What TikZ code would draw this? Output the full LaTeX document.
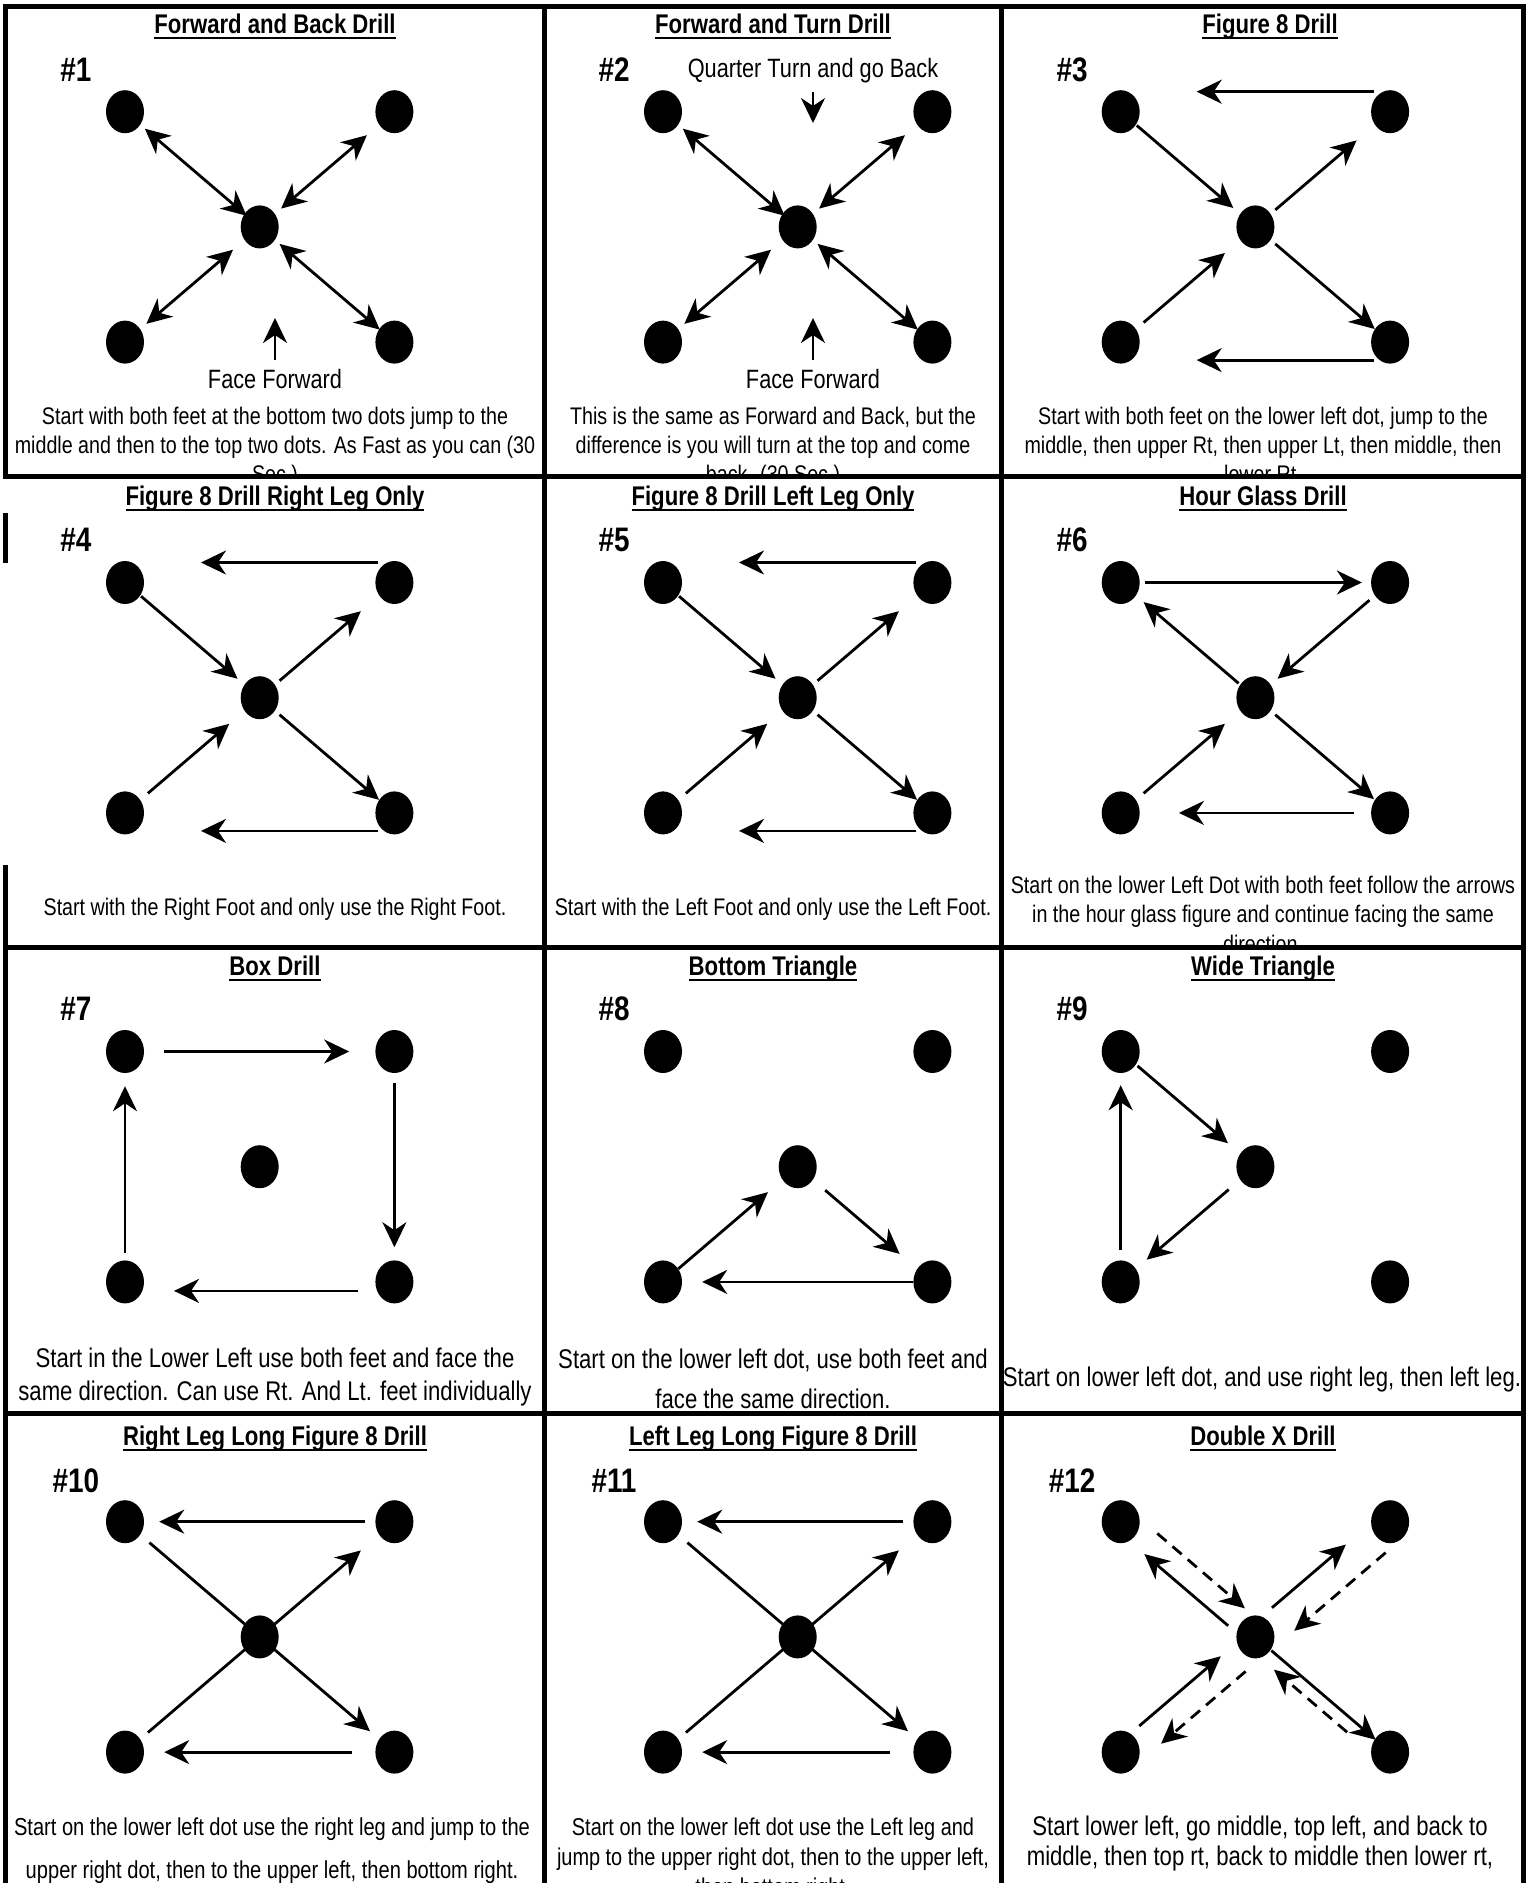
\documentclass[tikz,border=0pt]{standalone}
\usepackage{fontspec}
\setmainfont{Liberation Sans}[FakeStretch=0.82]
\usetikzlibrary{arrows.meta,calc,positioning,shapes.geometric}
\newcommand{\ulin}[1]{\sbox0{#1}\rlap{\rule[-6pt]{\wd0}{2pt}}\usebox0}

\begin{document}
\begin{tikzpicture}[x=1pt,y=-1pt,
    spot/.style={ellipse,fill,inner sep=0pt,minimum width=38pt,minimum height=43pt},
    arr/.style={-{Stealth[length=25pt,width=24pt,inset=8pt]},line width=2.8pt},
    dbl/.style={{Stealth[length=25pt,width=24pt,inset=8pt]}-{Stealth[length=25pt,width=24pt,inset=8pt]},line width=2.8pt},
    dsh/.style={arr,dash pattern=on 12pt off 8pt},
    ttl/.style={anchor=base,inner sep=0pt,font=\fontsize{27}{30}\selectfont\bfseries},
    num/.style={anchor=base,inner sep=0pt,font=\fontsize{34}{36}\selectfont\bfseries},
    lbl/.style={anchor=base,inner sep=0pt,font=\fontsize{26.5}{30}\selectfont},
    body/.style={anchor=base,inner sep=0pt,align=center},
    cellline/.style={line width=5pt,line cap=rect}]
  \fill[white] (0,0) rectangle (1532,1883);
  \useasboundingbox (0,0) rectangle (1532,1883);

  \foreach \c/\x/\y in {1/125/111.7,2/663/111.7,3/1120.7/111.7,4/125/582.5,5/663/582.5,6/1120.7/582.5,
      7/125/1051.5,8/663/1051.5,9/1120.7/1051.5,10/125/1521.7,11/663/1521.7,12/1120.7/1521.7}{
    \node[spot] (c\c tl) at (\x,\y) {};
    \node[spot,right=231pt of c\c tl] (c\c tr) {};
    \node[spot,below=187pt of c\c tl] (c\c bl) {};
    \node[spot,right=231pt of c\c bl] (c\c br) {};
    \node[spot] (c\c m) at ($(c\c tl)!.5!(c\c br)$) {};
  }

  \node[ttl] (t1) at (275,33.3) {\ulin{Forward and Back Drill}};
  \node[ttl] (t2) at (773,33.3) {\ulin{Forward and Turn Drill}};
  \node[ttl] (t3) at (1270,33.3) {\ulin{Figure 8 Drill}};
  \node[ttl] (t4) at (275,505) {\ulin{Figure 8 Drill Right Leg Only}};
  \node[ttl] (t5) at (773,505) {\ulin{Figure 8 Drill Left Leg Only}};
  \node[ttl] (t6) at (1263,505) {\ulin{Hour Glass Drill}};
  \node[ttl] (t7) at (275,975) {\ulin{Box Drill}};
  \node[ttl] (t8) at (773,975) {\ulin{Bottom Triangle}};
  \node[ttl] (t9) at (1263,975) {\ulin{Wide Triangle}};
  \node[ttl] (t10) at (275,1445) {\ulin{Right Leg Long Figure 8 Drill}};
  \node[ttl] (t11) at (773,1445) {\ulin{Left Leg Long Figure 8 Drill}};
  \node[ttl] (t12) at (1263,1445) {\ulin{Double X Drill}};

  \node[num] (n1) at (76,81.7) {\#1};
  \node[num] (n2) at (614,81.7) {\#2};
  \node[num] (n3) at (1072,81.7) {\#3};
  \node[num] (n4) at (76,551.7) {\#4};
  \node[num] (n5) at (614,551.7) {\#5};
  \node[num] (n6) at (1072,551.7) {\#6};
  \node[num] (n7) at (76,1020.7) {\#7};
  \node[num] (n8) at (614,1020.7) {\#8};
  \node[num] (n9) at (1072,1020.7) {\#9};
  \node[num] (n10) at (76,1492.7) {\#10};
  \node[num] (n11) at (614,1492.7) {\#11};
  \node[num] (n12) at (1072,1492.7) {\#12};

  \node[lbl] (c1ff) at (275,388) {Face Forward};
  \node[lbl] (c2ff) at (813,388) {Face Forward};
  \node[lbl] (c2qt) at (813,77) {Quarter Turn and go Back};
  \coordinate (c1fa) at (275,318);
  \coordinate (c2fa) at (813,318);
  \coordinate (c2qa) at (813,123);
  \draw[arr,shorten <=9pt] (c1ff) -- (c1fa);
  \draw[arr,shorten <=9pt] (c2ff) -- (c2fa);
  \draw[arr,shorten <=9pt] (c2qt) -- (c2qa);

  \foreach \c in {1,2}{
    \draw[dbl,shorten <=6pt,shorten >=-3pt] (c\c tl) -- (c\c m);
    \draw[dbl,shorten <=16pt,shorten >=8pt] (c\c tr) -- (c\c m);
    \draw[dbl,shorten <=8pt,shorten >=15pt] (c\c bl) -- (c\c m);
    \draw[dbl,shorten <=6pt,shorten >=-1pt] (c\c m) -- (c\c br);
  }
  \foreach \c in {3,4,5}{
    \draw[arr,shorten <=1pt,shorten >=9pt] (c\c tl) -- (c\c m);
    \draw[arr,shorten <=6pt,shorten >=24pt] (c\c m) -- (c\c tr);
    \draw[arr,shorten <=10pt,shorten >=20pt] (c\c bl) -- (c\c m);
    \draw[arr,shorten <=6pt] (c\c m) -- (c\c br);
    \draw[arr,shorten <=16pt,shorten >=76pt] ([yshift=20pt]c\c tr.center) -- ([yshift=20pt]c\c tl.center);
    \draw[arr,shorten <=16pt,shorten >=76pt] ([yshift=-18pt]c\c br.center) -- ([yshift=-18pt]c\c bl.center);
  }
  \draw[arr,shorten <=5pt,shorten >=9pt] (c6tl) -- (c6tr);
  \draw[arr,shorten <=7pt,shorten >=9pt] (c6tr) -- (c6m);
  \draw[arr,shorten <=2pt,shorten >=10pt] (c6m) -- (c6tl);
  \draw[arr,shorten <=10pt,shorten >=20pt] (c6bl) -- (c6m);
  \draw[arr,shorten <=6pt,shorten >=1pt] (c6m) -- (c6br);
  \draw[arr,shorten <=17pt,shorten >=39pt] (c6br) -- (c6bl);

  \draw[arr,shorten <=20pt,shorten >=26pt] (c7tl) -- (c7tr);
  \draw[arr,shorten <=10pt,shorten >=13pt] (c7tr) -- (c7br);
  \draw[arr,shorten <=36pt,shorten >=49pt] ([yshift=-9pt]c7br.center) -- ([yshift=-9pt]c7bl.center);
  \draw[arr,shorten <=7pt,shorten >=13pt] (c7bl) -- (c7tl);

  \draw[arr,shorten >=19pt] (c8bl) -- (c8m);
  \draw[arr,shorten <=16pt,shorten >=23pt] (c8m) -- (c8br);
  \draw[arr,shorten >=20pt] (c8br) -- (c8bl);

  \draw[arr,shorten <=2pt,shorten >=16pt] (c9tl) -- (c9m);
  \draw[arr,shorten <=15pt,shorten >=14pt] (c9m) -- (c9bl);
  \draw[arr,shorten <=10pt,shorten >=12pt] (c9bl) -- (c9tl);

  \foreach \c in {10,11}{
    \draw[arr,shorten <=10pt,shorten >=15pt] (c\c tr) -- (c\c tl);
    \draw[arr,shorten <=10pt,shorten >=24pt] (c\c bl) -- (c\c tr);
    \draw[arr,shorten <=12pt,shorten >=12pt] (c\c tl) -- (c\c br);
    \draw[arr,shorten <=23pt,shorten >=20pt] (c\c br) -- (c\c bl);
  }

  \draw[arr,shorten <=28pt,shorten >=39pt] ([shift={(-6pt,-7pt)}]c12m.center) -- ([shift={(-6pt,-7pt)}]c12tl.center);
  \draw[dsh,shorten <=35pt,shorten >=27pt] ([shift={(10pt,11pt)}]c12tl.center) -- ([shift={(10pt,11pt)}]c12m.center);
  \draw[arr,shorten <=31pt,shorten >=39pt] ([shift={(-5pt,6pt)}]c12bl.center) -- ([shift={(-5pt,6pt)}]c12m.center);
  \draw[dsh,shorten <=30pt,shorten >=36pt] ([shift={(13pt,-15pt)}]c12m.center) -- ([shift={(13pt,-15pt)}]c12bl.center);
  \draw[arr,shorten <=31pt,shorten >=49pt] ([shift={(-7pt,9pt)}]c12m.center) -- ([shift={(-7pt,9pt)}]c12tr.center);
  \draw[dsh,shorten <=23pt,shorten >=34pt] ([shift={(13pt,-16pt)}]c12tr.center) -- ([shift={(13pt,-16pt)}]c12m.center);
  \draw[arr,shorten <=21pt,shorten >=19pt] (c12m.center) -- (c12br.center);
  \draw[dsh,shorten <=46pt,shorten >=35pt] ([shift={(-8pt,-10pt)}]c12br.center) -- ([shift={(-8pt,-10pt)}]c12m.center);

  \begin{scope}
    \clip (0,6.7) rectangle (1532,476.5);
    \node[body,font=\fontsize{24}{29.3}\selectfont] (b1) at (275,482.6) {Start with both feet at the bottom two dots jump to the\\middle and then to the top two dots. As Fast as you can (30\\Sec.)};
    \node[body,font=\fontsize{24}{29.3}\selectfont] (b2) at (773,482.6) {This is the same as Forward and Back, but the\\difference is you will turn at the top and come\\back. (30 Sec.)};
    \node[body,font=\fontsize{24}{29.3}\selectfont] (b3) at (1263,482.6) {Start with both feet on the lower left dot, jump to the\\middle, then upper Rt, then upper Lt, then middle, then\\lower Rt.};
  \end{scope}
  \begin{scope}
    \clip (0,476.5) rectangle (1532,947);
    \node[body,font=\fontsize{24}{29.3}\selectfont] (b4) at (275,915) {Start with the Right Foot and only use the Right Foot.};
    \node[body,font=\fontsize{24}{29.3}\selectfont] (b5) at (773,915) {Start with the Left Foot and only use the Left Foot.};
    \node[body,font=\fontsize{24}{29.6}\selectfont] (b6) at (1263,952.2) {Start on the lower Left Dot with both feet follow the arrows\\in the hour glass figure and continue facing the same\\direction.};
  \end{scope}
  \node[body,font=\fontsize{27}{32.6}\selectfont] (b7) at (275,1400.5) {Start in the Lower Left use both feet and face the\\same direction. Can use Rt. And Lt. feet individually};
  \node[body,font=\fontsize{27}{40}\selectfont] (b8) at (773,1408) {Start on the lower left dot, use both feet and\\face the same direction.};
  \node[body,font=\fontsize{27}{30}\selectfont] (b9) at (1262,1386.8) {Start on lower left dot, and use right leg, then left leg.};
  \node[body,font=\fontsize{24.5}{43}\selectfont] (b10) at (272,1878) {Start on the lower left dot use the right leg and jump to the\\upper right dot, then to the upper left, then bottom right.};
  \node[body,font=\fontsize{24.3}{30}\selectfont] (b11) at (773,1895) {Start on the lower left dot use the Left leg and\\jump to the upper right dot, then to the upper left,\\then bottom right.};
  \node[body,font=\fontsize{27}{30}\selectfont] (b12) at (1260,1865) {Start lower left, go middle, top left, and back to\\middle, then top rt, back to middle then lower rt,};

  \draw[cellline] (5.7,476.5) -- (5.7,6.7) -- (1523,6.7) -- (1523,1883);
  \draw[cellline] (5.7,947) -- (5.7,1883);
  \draw[cellline] (5.7,515) -- (5.7,560);
  \draw[cellline] (5.7,867) -- (5.7,947);
  \foreach \y in {476.5,947,1413} \draw[cellline] (5.7,\y) -- (1523,\y);
  \foreach \x in {544.5,1001} \draw[cellline] (\x,6.7) -- (\x,1883);
\end{tikzpicture}
\end{document}
